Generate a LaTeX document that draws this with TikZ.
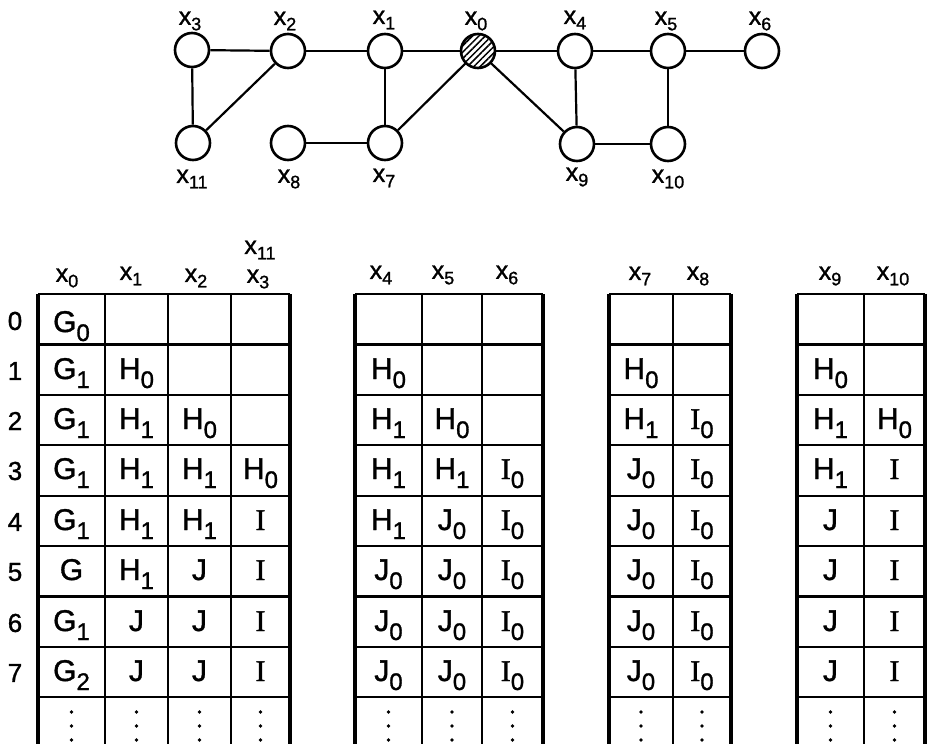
\documentclass[tikz,border=0pt]{standalone}
\usepackage{fontspec}
\setmainfont{Liberation Sans}[FakeBold=1.2]
\newfontfamily\serfont{Liberation Serif}[FakeBold=1.2]
\usetikzlibrary{patterns.meta}
\newcommand\myx[1]{x\raisebox{-5.5pt}{\fontsize{18}{18}\selectfont #1}}
\newcommand\mycell[2]{#1\raisebox{-9pt}{\fontsize{24}{24}\selectfont #2}}
\newcommand\myI[1]{{\serfont I}\raisebox{-9pt}{\fontsize{24}{24}\selectfont #1}}
\tikzset{
  vert/.style={circle, draw, line width=2.6pt, minimum size=34pt, inner sep=0pt},
  edge/.style={line width=2.2pt},
  lab/.style={font=\fontsize{25}{25}\selectfont, inner sep=0pt},
  rowlab/.style={font=\fontsize{26}{26}\selectfont, inner sep=0pt},
  cell/.style={font=\fontsize{30}{30}\selectfont, inner sep=0pt, anchor=base},
  hline/.style={line width=2.2pt},
  topline/.style={line width=2.8pt},
  outv/.style={line width=3.2pt},
  inv/.style={line width=2.2pt}
}
\begin{document}
\begin{tikzpicture}[x=1pt,y=-1pt]
\useasboundingbox (0,0) rectangle (927,744);
% ---------- graph ----------
\node[vert] (x3) at (192,50) {};
\node[vert] (x2) at (288,51) {};
\node[vert] (x1) at (385,51) {};
\node[vert, pattern={Lines[angle=45,distance=4.5pt,line width=1.5pt]}] (x0) at (478,51) {};
\node[vert] (x4) at (575,51) {};
\node[vert] (x5) at (668,51) {};
\node[vert] (x6) at (762,51) {};
\node[vert] (x11) at (193,143) {};
\node[vert] (x8) at (288,143) {};
\node[vert] (x7) at (385,143) {};
\node[vert] (x9) at (577,144) {};
\node[vert] (x10) at (668,144) {};
\node[lab] (lx3) at (190,21) {\myx{3}};
\node[lab] (lx2) at (285,21) {\myx{2}};
\node[lab] (lx1) at (384,20) {\myx{1}};
\node[lab] (lx0) at (476,21) {\myx{0}};
\node[lab] (lx4) at (575,20) {\myx{4}};
\node[lab] (lx5) at (666,21) {\myx{5}};
\node[lab] (lx6) at (760,21) {\myx{6}};
\node[lab] (lx11) at (192,179) {\myx{11}};
\node[lab] (lx8) at (289,179) {\myx{8}};
\node[lab] (lx7) at (384,178) {\myx{7}};
\node[lab] (lx9) at (577,177) {\myx{9}};
\node[lab] (lx10) at (668,179) {\myx{10}};
\draw[edge] (x3) -- (x2);
\draw[edge] (x2) -- (x1);
\draw[edge] (x1) -- (x0);
\draw[edge] (x0) -- (x4);
\draw[edge] (x4) -- (x5);
\draw[edge] (x5) -- (x6);
\draw[edge] (x3) -- (x11);
\draw[edge] (x11) -- (x2);
\draw[edge] (x1) -- (x7);
\draw[edge] (x8) -- (x7);
\draw[edge] (x7) -- (x0);
\draw[edge] (x0) -- (x9);
\draw[edge] (x4) -- (x9);
\draw[edge] (x9) -- (x10);
\draw[edge] (x5) -- (x10);
% ---------- table grids ----------
\foreach \L/\R in {38/290, 355/543, 609/731, 797/925}{
  \draw[topline] (\L,294) -- (\R,294);
  \foreach \yy in {344.4,394.8,445.2,495.6,546,596.4,646.8,697.2}
    \draw[hline] (\L,\yy) -- (\R,\yy);
  \draw[outv] (\L,294) -- (\L,744);
  \draw[outv] (\R,294) -- (\R,744);
}
\foreach \xx in {105,168,231,422,482,673,864}
  \draw[inv] (\xx,294) -- (\xx,744);
% dots
\foreach \cx in {71.5,136.5,199.5,260.5,388.5,452,512.5,641,702,830.5,894.5}{
  \foreach \dy in {712,726,740}
    \fill (\cx,\dy) circle (1.9pt);
}
% row labels
\node[rowlab] (r0) at (15,321) {0};
\node[rowlab] (r1) at (15,371) {1};
\node[rowlab] (r2) at (15,421) {2};
\node[rowlab] (r3) at (15,471) {3};
\node[rowlab] (r4) at (15,522) {4};
\node[rowlab] (r5) at (15,572) {5};
\node[rowlab] (r6) at (15,623) {6};
\node[rowlab] (r7) at (15,673) {7};
% headers
\node[lab] (h0) at (67,278) {\myx{0}};
\node[lab] (h1) at (131,276) {\myx{1}};
\node[lab] (h2) at (196,278) {\myx{2}};
\node[lab] (h3) at (258,279) {\myx{3}};
\node[lab] (h11) at (260,250) {\myx{11}};
\node[lab] (h4) at (381,275) {\myx{4}};
\node[lab] (h5) at (443,275) {\myx{5}};
\node[lab] (h6) at (507,275) {\myx{6}};
\node[lab] (h7) at (640,276) {\myx{7}};
\node[lab] (h8) at (698,276) {\myx{8}};
\node[lab] (h9) at (830,276) {\myx{9}};
\node[lab] (h10) at (893,276) {\myx{10}};
% ---------- table 1 ----------
\node[cell] (a00) at (71.5,332) {\mycell{G}{0}};
\node[cell] (a10) at (71.5,379) {\mycell{G}{1}};
\node[cell] (a11) at (136.5,379) {\mycell{H}{0}};
\node[cell] (a20) at (71.5,429) {\mycell{G}{1}};
\node[cell] (a21) at (136.5,429) {\mycell{H}{1}};
\node[cell] (a22) at (199.5,429) {\mycell{H}{0}};
\node[cell] (a30) at (71.5,479) {\mycell{G}{1}};
\node[cell] (a31) at (136.5,479) {\mycell{H}{1}};
\node[cell] (a32) at (199.5,479) {\mycell{H}{1}};
\node[cell] (a33) at (260.5,479) {\mycell{H}{0}};
\node[cell] (a40) at (71.5,530) {\mycell{G}{1}};
\node[cell] (a41) at (136.5,530) {\mycell{H}{1}};
\node[cell] (a42) at (199.5,530) {\mycell{H}{1}};
\node[cell] (a43) at (260.5,530) {\myI{}};
\node[cell] (a50) at (71.5,580) {G};
\node[cell] (a51) at (136.5,580) {\mycell{H}{1}};
\node[cell] (a52) at (199.5,580) {J};
\node[cell] (a53) at (260.5,580) {\myI{}};
\node[cell] (a60) at (71.5,631) {\mycell{G}{1}};
\node[cell] (a61) at (136.5,631) {J};
\node[cell] (a62) at (199.5,631) {J};
\node[cell] (a63) at (260.5,631) {\myI{}};
\node[cell] (a70) at (71.5,681) {\mycell{G}{2}};
\node[cell] (a71) at (136.5,681) {J};
\node[cell] (a72) at (199.5,681) {J};
\node[cell] (a73) at (260.5,681) {\myI{}};
% ---------- table 2 ----------
\node[cell] (b10) at (388.5,379) {\mycell{H}{0}};
\node[cell] (b20) at (388.5,429) {\mycell{H}{1}};
\node[cell] (b21) at (452,429) {\mycell{H}{0}};
\node[cell] (b30) at (388.5,479) {\mycell{H}{1}};
\node[cell] (b31) at (452,479) {\mycell{H}{1}};
\node[cell] (b32) at (512.5,479) {\myI{0}};
\node[cell] (b40) at (388.5,530) {\mycell{H}{1}};
\node[cell] (b41) at (452,530) {\mycell{J}{0}};
\node[cell] (b42) at (512.5,530) {\myI{0}};
\node[cell] (b50) at (388.5,580) {\mycell{J}{0}};
\node[cell] (b51) at (452,580) {\mycell{J}{0}};
\node[cell] (b52) at (512.5,580) {\myI{0}};
\node[cell] (b60) at (388.5,631) {\mycell{J}{0}};
\node[cell] (b61) at (452,631) {\mycell{J}{0}};
\node[cell] (b62) at (512.5,631) {\myI{0}};
\node[cell] (b70) at (388.5,681) {\mycell{J}{0}};
\node[cell] (b71) at (452,681) {\mycell{J}{0}};
\node[cell] (b72) at (512.5,681) {\myI{0}};
% ---------- table 3 ----------
\node[cell] (c10) at (641,379) {\mycell{H}{0}};
\node[cell] (c20) at (641,429) {\mycell{H}{1}};
\node[cell] (c21) at (702,429) {\myI{0}};
\node[cell] (c30) at (641,479) {\mycell{J}{0}};
\node[cell] (c31) at (702,479) {\myI{0}};
\node[cell] (c40) at (641,530) {\mycell{J}{0}};
\node[cell] (c41) at (702,530) {\myI{0}};
\node[cell] (c50) at (641,580) {\mycell{J}{0}};
\node[cell] (c51) at (702,580) {\myI{0}};
\node[cell] (c60) at (641,631) {\mycell{J}{0}};
\node[cell] (c61) at (702,631) {\myI{0}};
\node[cell] (c70) at (641,681) {\mycell{J}{0}};
\node[cell] (c71) at (702,681) {\myI{0}};
% ---------- table 4 ----------
\node[cell] (d10) at (830.5,379) {\mycell{H}{0}};
\node[cell] (d20) at (830.5,429) {\mycell{H}{1}};
\node[cell] (d21) at (894.5,429) {\mycell{H}{0}};
\node[cell] (d30) at (830.5,479) {\mycell{H}{1}};
\node[cell] (d31) at (894.5,479) {\myI{}};
\node[cell] (d40) at (830.5,530) {J};
\node[cell] (d41) at (894.5,530) {\myI{}};
\node[cell] (d50) at (830.5,580) {J};
\node[cell] (d51) at (894.5,580) {\myI{}};
\node[cell] (d60) at (830.5,631) {J};
\node[cell] (d61) at (894.5,631) {\myI{}};
\node[cell] (d70) at (830.5,681) {J};
\node[cell] (d71) at (894.5,681) {\myI{}};
\end{tikzpicture}
\end{document}
